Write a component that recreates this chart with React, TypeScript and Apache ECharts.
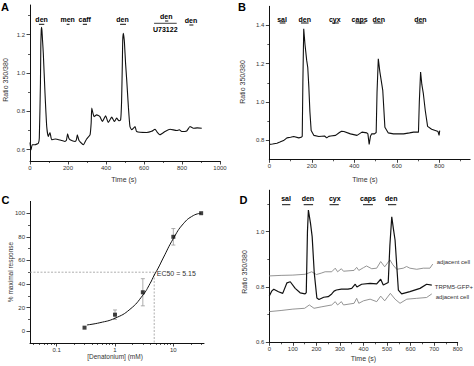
import { useEffect, useRef } from "react";
import * as echarts from "echarts";

// ---------- Panel A ----------
const aTime = [0, 5, 12, 26, 44, 49, 55, 57, 59, 61, 63, 66, 70, 79, 88, 96, 105, 114, 132, 167, 184, 192, 198, 204, 211, 237, 244, 249, 254, 258, 281, 298, 316, 322, 325, 337, 351, 368, 381, 398, 412, 430, 444, 456, 468, 477, 482, 486, 488, 491, 494, 497, 503, 509, 518, 526, 535, 553, 561, 614, 640, 658, 670, 684, 711, 737, 772, 786, 798, 825, 842, 860, 880, 904];
const aRatio = [0.637, 0.598, 0.625, 0.625, 0.633, 0.66, 0.95, 1.15, 1.22, 1.238, 1.22, 1.17, 1.103, 0.894, 0.72, 0.668, 0.689, 0.651, 0.655, 0.647, 0.642, 0.65, 0.682, 0.66, 0.651, 0.642, 0.65, 0.677, 0.66, 0.647, 0.625, 0.655, 0.677, 0.74, 0.816, 0.772, 0.781, 0.772, 0.746, 0.776, 0.741, 0.769, 0.746, 0.764, 0.75, 0.755, 0.85, 1.05, 1.17, 1.207, 1.19, 1.16, 1.05, 0.964, 0.82, 0.72, 0.703, 0.72, 0.694, 0.689, 0.695, 0.706, 0.69, 0.677, 0.694, 0.706, 0.699, 0.703, 0.694, 0.697, 0.72, 0.711, 0.713, 0.711];
const aTreat = [
  { name: "den", t: 61, bar: [47, 75] },
  { name: "men", t: 198, bar: [193, 208] },
  { name: "caff", t: 288, bar: [278, 300] },
  { name: "den", t: 487, bar: [474, 505] },
  { name: "den", t: 717, bar: [711, 728] },
  { name: "den", t: 847, bar: [839, 860] },
];
const aInhibitor = { name: "U73122", t: 712, bar: [653, 772] };
const aXLabels = [0, 200, 400, 600, 800, 1000];
const aXMinor = [100, 300, 500, 700, 900];
const aYLabels = [0.6, 0.8, 1.0, 1.2];
const aYMinor = [0.7, 0.9, 1.1, 1.3];

// ---------- Panel B ----------
const bTime = [0, 15, 36, 50, 67, 83, 100, 115, 139, 150, 155, 158, 162, 168, 176, 181, 186, 191, 197, 210, 233, 260, 270, 280, 289, 312, 330, 340, 351, 382, 413, 436, 459, 464, 470, 476, 482, 495, 503, 507, 513, 520, 527, 534, 544, 560, 584, 632, 660, 679, 702, 706, 712, 718, 725, 734, 745, 764, 788, 794, 799, 802];
const bRatio = [0.778, 0.78, 0.784, 0.79, 0.798, 0.812, 0.815, 0.819, 0.812, 0.815, 0.82, 1.1, 1.383, 1.3, 1.217, 1.18, 1.08, 0.95, 0.851, 0.825, 0.819, 0.822, 0.812, 0.82, 0.822, 0.825, 0.84, 0.847, 0.845, 0.833, 0.825, 0.842, 0.838, 0.833, 0.778, 0.82, 0.833, 0.833, 0.84, 1.05, 1.226, 1.16, 1.11, 1.06, 0.868, 0.838, 0.833, 0.833, 0.838, 0.842, 0.842, 1.0, 1.156, 1.09, 1.043, 0.955, 0.872, 0.857, 0.848, 0.845, 0.825, 0.85];
const bTreat = [
  { name: "sal", t: 60, bar: [49, 76] },
  { name: "den", t: 167, bar: [149, 185] },
  { name: "cyx", t: 308, bar: [295, 327] },
  { name: "caps", t: 425, bar: [405, 452] },
  { name: "den", t: 515, bar: [491, 534] },
  { name: "den", t: 711, bar: [692, 727] },
];
const bXLabels = [0, 200, 400, 600, 800];
const bXMinor = [100, 300, 500, 700, 900];
const bYLabels = [0.8, 1.0, 1.2, 1.4];
const bYMinor = [0.9, 1.1, 1.3];

// ---------- Panel C ----------
const cConc = [0.3, 1, 3, 10, 30];
const cResp = [3, 14, 33, 80, 100];
const cErr = [0, 4, 11.5, 7, 0];
const cFitConc = [0.33, 0.55, 1, 1.8, 3, 4, 4.7, 5.5, 6.7, 10, 14.8, 22, 30];
const cFitResp = [5.3, 7.2, 11, 18.5, 30.5, 40.5, 47.5, 53.5, 62, 78.5, 91, 98, 100];
const cEc50Label = "EC50 = 5.15";
const cEc50Drop = 4.7;
const cXLabels = [0.1, 1, 10];
const cXMinor = [0.04, 0.05, 0.06, 0.07, 0.08, 0.09, 0.2, 0.3, 0.4, 0.5, 0.6, 0.7, 0.8, 0.9, 2, 3, 4, 5, 6, 7, 8, 9, 20, 30];
const cYLabels = [0, 20, 40, 60, 80, 100];
const cYMinor = [10, 30, 50, 70, 90];

// ---------- Panel D ----------
const dTrpmTime = [0, 10, 19, 39, 57, 75, 89, 110, 131, 152, 157, 162, 166, 175, 182, 191, 202, 211, 231, 250, 265, 275, 285, 306, 334, 350, 365, 372, 392, 428, 456, 473, 484, 505, 512, 520, 527, 534, 548, 562, 597, 640, 668, 690];
const dTrpm = [0.767, 0.785, 0.792, 0.783, 0.777, 0.815, 0.819, 0.795, 0.779, 0.775, 0.78, 1.0, 1.078, 1.03, 0.982, 0.85, 0.76, 0.755, 0.763, 0.765, 0.775, 0.785, 0.789, 0.792, 0.792, 0.795, 0.81, 0.8, 0.81, 0.813, 0.811, 0.828, 0.807, 0.816, 0.95, 1.054, 1.01, 0.97, 0.789, 0.775, 0.783, 0.795, 0.81, 0.807];
const dUpperTime = [0, 50, 100, 152, 165, 180, 200, 220, 237, 265, 280, 290, 306, 315, 360, 371, 380, 400, 413, 435, 456, 473, 490, 512, 525, 541, 569, 583, 597, 626, 654, 682, 694];
const dUpper = [0.84, 0.842, 0.843, 0.846, 0.85, 0.855, 0.845, 0.85, 0.855, 0.855, 0.868, 0.855, 0.866, 0.857, 0.86, 0.871, 0.86, 0.87, 0.876, 0.866, 0.868, 0.892, 0.873, 0.898, 0.88, 0.864, 0.868, 0.874, 0.868, 0.864, 0.868, 0.868, 0.883];
const dLowerTime = [0, 50, 100, 150, 170, 190, 220, 265, 280, 290, 306, 315, 360, 371, 380, 400, 428, 456, 473, 490, 514, 534, 555, 584, 626, 668, 690];
const dLower = [0.711, 0.715, 0.72, 0.723, 0.735, 0.723, 0.728, 0.735, 0.747, 0.735, 0.747, 0.735, 0.741, 0.759, 0.741, 0.75, 0.756, 0.747, 0.767, 0.75, 0.777, 0.756, 0.741, 0.756, 0.759, 0.762, 0.775];
const dTreat = [
  { name: "sal", t: 71, bar: [54, 89] },
  { name: "den", t: 164, bar: [146, 186] },
  { name: "cyx", t: 278, bar: [256, 295] },
  { name: "caps", t: 419, bar: [398, 440] },
  { name: "den", t: 518, bar: [504, 539] },
];
const dTraceNames = ["adjacent cell", "TRPM5-GFP+", "adjacent cell"];
const dXLabels = [0, 100, 200, 300, 400, 500, 600, 700, 800];
const dXMinor = [50, 150, 250, 350, 450, 550, 650, 750];
const dYLabels = [0.6, 0.8, 1.0];
const dYMinor = [0.7, 0.9, 1.1];

const FONT = "Liberation Sans, Arial, Helvetica, sans-serif";
const lg = (v: number) => Math.log10(v);

function majorAxis(kind: "x" | "y", grid: number, min: number, max: number, labels: number[], fmt: (v: number) => string) {
  return {
    type: "value",
    gridIndex: grid,
    position: kind === "x" ? "bottom" : "left",
    min,
    max,
    axisLine: { show: true, onZero: false, lineStyle: { color: "#111", width: 1 } },
    axisTick: { show: true, length: 3.5, customValues: labels, lineStyle: { color: "#111", width: 0.8 } },
    axisLabel: { show: true, customValues: labels, fontSize: 6, color: "#333", margin: kind === "x" ? 4 : 5, fontFamily: FONT, formatter: fmt },
    splitLine: { show: false },
  };
}
function minorAxis(kind: "x" | "y", grid: number, min: number, max: number, vals: number[]) {
  return {
    type: "value",
    gridIndex: grid,
    position: kind === "x" ? "bottom" : "left",
    min,
    max,
    axisLine: { show: false, onZero: false },
    axisTick: { show: true, length: 2, customValues: vals, lineStyle: { color: "#111", width: 0.7 } },
    axisLabel: { show: false },
    splitLine: { show: false },
  };
}

export default function App() {
  const ref = useRef<HTMLDivElement>(null);
  useEffect(() => {
    document.body.style.margin = "0";
    const chart = echarts.init(ref.current!, null, { renderer: "svg" });
    const f1 = (v: number) => v.toFixed(1);
    const f0 = (v: number) => String(Math.round(v));
    const fLog = (v: number) => String(Math.round(Math.pow(10, v) * 1000) / 1000);
    const cMin = -1.458;
    const cMax = 1.526;

    const option: any = {
      animation: false,
      backgroundColor: "#fff",
      grid: [
        { left: 30, top: 5, width: 190, height: 156 },
        { left: 269.3, top: 6.3, width: 200.8, height: 153 },
        { left: 30, top: 201.4, width: 174, height: 141.6 },
        { left: 269.3, top: 190.2, width: 188.4, height: 152.1 },
      ],
      xAxis: [
        majorAxis("x", 0, 0, 1000, aXLabels, f0),
        minorAxis("x", 0, 0, 1000, aXMinor),
        majorAxis("x", 1, 0, 945, bXLabels, f0),
        minorAxis("x", 1, 0, 945, bXMinor),
        majorAxis("x", 2, cMin, cMax, cXLabels.map(lg), fLog),
        minorAxis("x", 2, cMin, cMax, cXMinor.map(lg)),
        majorAxis("x", 3, 0, 800, dXLabels, f0),
        minorAxis("x", 3, 0, 800, dXMinor),
      ],
      yAxis: [
        majorAxis("y", 0, 0.54, 1.355, aYLabels, f1),
        minorAxis("y", 0, 0.54, 1.355, aYMinor),
        majorAxis("y", 1, 0.7, 1.5, bYLabels, f1),
        minorAxis("y", 1, 0.7, 1.5, bYMinor),
        majorAxis("y", 2, -10, 110, cYLabels, f0),
        minorAxis("y", 2, -10, 110, cYMinor),
        majorAxis("y", 3, 0.6, 1.15, dYLabels, f1),
        minorAxis("y", 3, 0.6, 1.15, dYMinor),
      ],
      series: [
        {
          type: "line", xAxisIndex: 0, yAxisIndex: 0, showSymbol: false, smooth: 0.15,
          lineStyle: { color: "#111", width: 1.1 },
          data: aTime.map((t, i) => [t, aRatio[i]]),
        },
        {
          type: "line", xAxisIndex: 2, yAxisIndex: 2, showSymbol: false,
          lineStyle: { color: "#111", width: 1.1 },
          data: bTime.map((t, i) => [t, bRatio[i]]),
        },
        {
          type: "line", xAxisIndex: 4, yAxisIndex: 4, showSymbol: false,
          lineStyle: { color: "#999", width: 0.8, type: [2, 1.5] },
          data: [[cMin, 50], [lg(cEc50Drop), 50], [lg(cEc50Drop), -10]],
        },
        {
          type: "line", xAxisIndex: 4, yAxisIndex: 4, showSymbol: false, smooth: true,
          lineStyle: { color: "#111", width: 1 },
          data: cFitConc.map((c, i) => [lg(c), cFitResp[i]]),
        },
        {
          type: "custom", xAxisIndex: 4, yAxisIndex: 4,
          encode: { x: 0, y: 1 },
          data: cConc.map((c, i) => [lg(c), cResp[i], cErr[i]]),
          renderItem: (_p: any, api: any) => {
            const x = api.value(0), y = api.value(1), e = api.value(2);
            if (!e) return { type: "group", children: [] };
            const top = api.coord([x, y + e]);
            const bot = api.coord([x, y - e]);
            const w = 2;
            const st = { stroke: "#999", lineWidth: 0.8 };
            return {
              type: "group",
              children: [
                { type: "line", shape: { x1: top[0], y1: top[1], x2: bot[0], y2: bot[1] }, style: st },
                { type: "line", shape: { x1: top[0] - w, y1: top[1], x2: top[0] + w, y2: top[1] }, style: st },
                { type: "line", shape: { x1: bot[0] - w, y1: bot[1], x2: bot[0] + w, y2: bot[1] }, style: st },
              ],
            };
          },
        },
        {
          type: "scatter", xAxisIndex: 4, yAxisIndex: 4, symbol: "rect", symbolSize: 4,
          itemStyle: { color: "#111" },
          data: cConc.map((c, i) => [lg(c), cResp[i]]),
        },
        {
          type: "line", xAxisIndex: 6, yAxisIndex: 6, showSymbol: false,
          lineStyle: { color: "#888", width: 0.9 },
          data: dUpperTime.map((t, i) => [t, dUpper[i]]),
        },
        {
          type: "line", xAxisIndex: 6, yAxisIndex: 6, showSymbol: false,
          lineStyle: { color: "#888", width: 0.9 },
          data: dLowerTime.map((t, i) => [t, dLower[i]]),
        },
        {
          type: "line", xAxisIndex: 6, yAxisIndex: 6, showSymbol: false,
          lineStyle: { color: "#111", width: 1.2 },
          data: dTrpmTime.map((t, i) => [t, dTrpm[i]]),
        },
      ],
    };
    chart.setOption(option);

    const g: any[] = [];
    const px = (xi: number, v: number) => chart.convertToPixel({ xAxisIndex: xi } as any, v) as unknown as number;
    const py = (yi: number, v: number) => chart.convertToPixel({ yAxisIndex: yi } as any, v) as unknown as number;
    const text = (x: number, y: number, t: string, o: any = {}) =>
      g.push({
        type: "text", x, y, rotation: o.rot || 0,
        style: {
          text: t, fontFamily: FONT, fontSize: o.size || 7, fontWeight: o.bold ? "bold" : "normal",
          fill: o.color || "#222", align: o.align || "center", verticalAlign: "middle",
        },
      });
    const hline = (x1: number, x2: number, y: number, w = 1) =>
      g.push({ type: "line", shape: { x1, y1: y, x2, y2: y }, style: { stroke: "#111", lineWidth: w } });
    const treat = (xi: number, list: { name: string; t: number; bar: number[] }[], ty: number, by: number) => {
      list.forEach((tr) => {
        text(px(xi, tr.t), ty, tr.name, { bold: true, size: 7, color: "#000" });
        hline(px(xi, tr.bar[0]), px(xi, tr.bar[1]), by);
      });
    };

    // Panel A annotations
    aTreat.forEach((tr, i) => {
      const special = i === 4;
      const ty = special ? 16.5 : i === 5 ? 20.5 : 19.5;
      const by = special ? 21 : i === 5 ? 25 : 24.3;
      text(px(0, tr.t), ty, tr.name, { bold: true, size: 7, color: "#000" });
      hline(px(0, tr.bar[0]), px(0, tr.bar[1]), by);
    });
    hline(px(0, aInhibitor.bar[0]), px(0, aInhibitor.bar[1]), 23.3, 0.8);
    text(px(0, aInhibitor.t), 29.5, aInhibitor.name, { bold: true, size: 7, color: "#000" });

    // Panel B / D annotations
    treat(2, bTreat, 19.8, 23);
    treat(6, dTreat, 198, 204.7);

    // Panel D trace names
    const dEndX = px(6, 694) + 4;
    text(dEndX, 262, dTraceNames[0], { size: 6, align: "left", color: "#333" });
    text(dEndX - 2, 286.5, dTraceNames[1], { size: 6, align: "left", color: "#333" });
    text(dEndX - 1, 296.5, dTraceNames[2], { size: 6, align: "left", color: "#333" });

    // Panel C EC50 label
    text(px(4, lg(cEc50Drop)) + 2.5, py(4, 50) + 1.5, cEc50Label, { size: 7, align: "left", color: "#333" });

    // Axis titles
    text(5.5, 80, "Ratio 350/380", { size: 7, rot: Math.PI / 2, color: "#333" });
    text(242, 82, "Ratio 350/380", { size: 7, rot: Math.PI / 2, color: "#333" });
    text(10, 272, "% maximal response", { size: 6.5, rot: Math.PI / 2, color: "#333" });
    text(244.5, 272, "Ratio 350/380", { size: 7, rot: Math.PI / 2, color: "#333" });
    text(124, 179, "Time (s)", { size: 7, color: "#333" });
    text(365, 179.5, "Time (s)", { size: 7, color: "#333" });
    text(115, 356.5, "[Denatonium] (mM)", { size: 6.5, color: "#333" });
    text(363.5, 358, "Time (s)", { size: 7, color: "#333" });

    // Panel letters
    text(5, 7, "A", { size: 11, bold: true, color: "#000" });
    text(242, 7, "B", { size: 11, bold: true, color: "#000" });
    text(5.5, 200, "C", { size: 11, bold: true, color: "#000" });
    text(243.5, 200, "D", { size: 11, bold: true, color: "#000" });

    chart.setOption({ graphic: g });
    return () => chart.dispose();
  }, []);
  return <div ref={ref} style={{ width: 474, height: 366, position: "fixed", left: 0, top: 0 }} />;
}
